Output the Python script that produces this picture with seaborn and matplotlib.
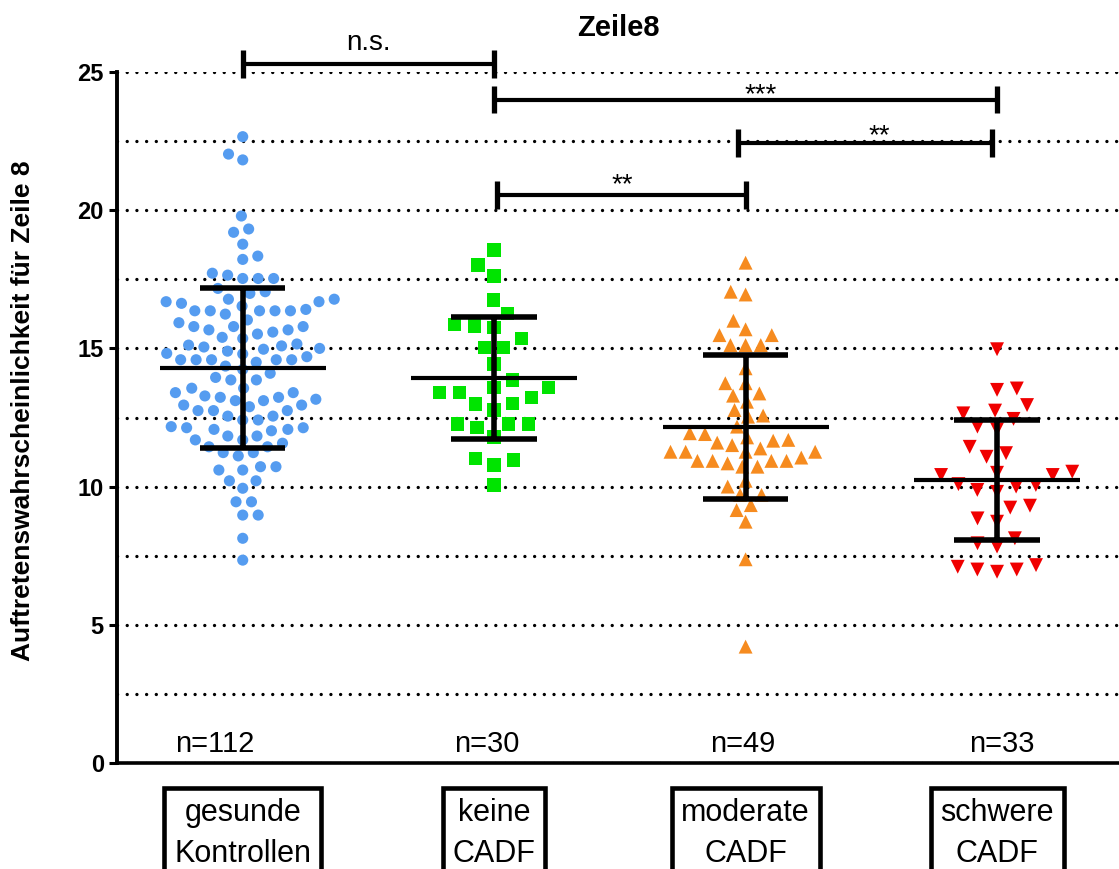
import numpy as np
import pandas as pd
import matplotlib
matplotlib.use("Agg")
import matplotlib.pyplot as plt
import seaborn as sns

# ---------------- data ----------------
categories = ["gesunde\nKontrollen", "keine\nCADF", "moderate\nCADF", "schwere\nCADF"]

gesunde = [22.66, 22.03, 21.82,
           19.79, 19.32, 19.20,
           18.77, 18.34, 18.22,
           17.72, 17.65, 17.53, 17.53, 17.53,
           17.17, 17.05, 16.99,
           16.78, 16.78, 16.69, 16.69, 16.63, 16.53, 16.41,
           16.36, 16.36, 16.36, 16.36, 16.36,
           16.24, 16.03, 15.93,
           15.79, 15.79, 15.79, 15.67, 15.67, 15.59, 15.52, 15.40, 15.36,
           15.16, 15.12, 15.09, 15.05, 15.00, 14.97, 14.90, 14.82, 14.80,
           14.70, 14.59, 14.59, 14.59, 14.59, 14.59, 14.50,
           14.36, 14.24, 14.10, 13.95, 13.86, 13.86,
           13.56, 13.56, 13.40, 13.40, 13.28, 13.23, 13.23, 13.16, 13.11, 13.11,
           12.95, 12.95, 12.89, 12.75, 12.75, 12.75, 12.55, 12.55, 12.41, 12.41,
           12.17, 12.13, 12.13, 12.07, 12.07, 12.02,
           11.83, 11.83, 11.69, 11.69, 11.57, 11.44, 11.44, 11.23, 11.23, 11.11,
           10.72, 10.72, 10.60, 10.60, 10.21, 10.21, 9.94, 9.45, 9.45, 8.97, 8.97,
           8.13, 7.34]

keine = [18.56, 18.02, 17.62, 16.75, 16.27, 15.87, 15.81, 15.76, 15.36, 15.04,
         15.04, 14.44, 13.86, 13.59, 13.59, 13.41, 13.40, 13.23, 12.99, 13.01,
         12.77, 12.26, 12.26, 12.26, 12.14, 11.80, 10.96, 11.02, 10.78, 10.06]

moderate = [18.10, 17.05, 16.95, 16.00, 15.69, 15.48, 15.48, 15.12, 15.12, 15.12,
            14.28, 13.74, 13.74, 13.29, 13.37, 13.07, 12.77, 12.57, 12.53, 12.17,
            11.93, 11.90, 11.78, 11.69, 11.66, 11.59, 11.50, 11.38,
            11.26, 11.26, 11.26, 11.26, 11.05, 10.93, 10.93, 10.93, 10.93,
            10.84, 10.72, 10.72, 10.21, 10.00, 9.70, 9.70, 9.33, 9.15, 8.73,
            7.37, 4.21]

schwere = [14.97, 13.50, 13.55, 12.95, 12.75, 12.65, 12.45, 12.07, 12.17,
           11.44, 11.21, 11.08, 10.42, 10.54, 10.42, 10.50, 10.00,
           10.09, 9.88, 10.06, 9.81, 9.24, 9.31, 8.73, 8.85,
           7.95, 8.13, 7.83, 7.16, 7.00, 6.92, 7.00, 7.10]

n_labels = ["n=112", "n=30", "n=49", "n=33"]
title_text = "Zeile8"
ylabel_text = "Auftretenswahrscheinlichkeit für Zeile 8"

# significance comparisons: (left group, right group, label)
comp_left = [0, 1, 1.97, 1.01]
comp_right = [1, 3, 2.98, 2.0]
comp_height = [25.3, 24.0, 22.43, 20.54]
comp_label = ["n.s.", "***", "**", "**"]

# ---------------- style ----------------
colors = ["#559CF0", "#00E400", "#F68B1F", "#F00000"]
markers = ["o", "s", "^", "v"]
msizes = [8.0, 9.6, 10.0, 10.0]
mgaps = [2.6, 4.0, 0.4, 3.6]

sns.set_style("white")
plt.rcParams["font.family"] = ["Liberation Sans", "DejaVu Sans"]
plt.rcParams.update({
    "text.color": "black", "axes.labelcolor": "black", "xtick.color": "black",
    "ytick.color": "black", "axes.edgecolor": "black",
})

df = pd.DataFrame({
    "group": sum([[c] * len(v) for c, v in zip(categories, [gesunde, keine, moderate, schwere])], []),
    "value": gesunde + keine + moderate + schwere,
})

fig = plt.figure(figsize=(11.19, 8.69), dpi=100)
ax = fig.add_axes([117 / 1119, 106 / 869, 1002 / 1119, 691 / 869])

for cat, col, mk, ms, gap in zip(categories, colors, markers, msizes, mgaps):
    sub = df[df["group"] == cat]
    sns.swarmplot(data=sub, x="group", y="value", order=categories, color=col,
                  marker=mk, size=ms, linewidth=gap, edgecolor="none",
                  ax=ax, zorder=3, warn_thresh=1.0)

sns.pointplot(data=df, x="group", y="value", order=categories, errorbar="sd",
              capsize=0.34, linestyle="none", marker="_", markersize=120,
              markeredgewidth=3.0, color="black",
              err_kws={"linewidth": 4.0, "zorder": 6, "solid_capstyle": "butt"},
              ax=ax, zorder=6)

# axes
ax.set_ylim(0, 25)
ax.set_xlim(-0.5, 3.485)
ax.set_yticks(np.arange(0, 26, 5))
ax.set_yticks(np.arange(2.5, 26, 2.5), minor=True)
ax.grid(False)
ax.yaxis.grid(True, which="both", color="black", linestyle=(0, (0.01, 2.9)),
              linewidth=2.4, dash_capstyle="round")
ax.set_axisbelow(True)
for s in ["top", "right"]:
    ax.spines[s].set_visible(False)
ax.spines["left"].set_linewidth(2.8)
ax.spines["bottom"].set_linewidth(2.6)
ax.tick_params(axis="y", which="major", length=6, width=2.2, labelsize=17,
               direction="out", left=True, colors="black")
ax.tick_params(axis="y", which="minor", length=0)
for lbl in ax.get_yticklabels():
    lbl.set_fontweight("bold")

ax.set_xlabel("")
ax.tick_params(axis="x", length=0, pad=25, labelsize=22, colors="black")
ax.set_xticks(range(len(categories)))
ax.set_xticklabels(categories, linespacing=1.5)
for lbl in ax.get_xticklabels():
    lbl.set_bbox(dict(boxstyle="square,pad=0.32", facecolor="white",
                      edgecolor="black", linewidth=3.3))

ax.set_ylabel(ylabel_text, fontsize=19, fontweight="bold", color="black")
ax.yaxis.set_label_coords(-0.082, 0.51)
ax.set_title(title_text, fontsize=21, fontweight="bold", pad=26, color="black")

# n labels
n_dx = [-0.11, -0.03, -0.01, 0.02]
for i, (lbl, dx) in enumerate(zip(n_labels, n_dx)):
    ax.text(i + dx, 0.38, lbl, ha="center", va="baseline", fontsize=21, color="black")

# significance brackets
text_dx = [0.0, 0.06, 0.055, 0.005]
text_y = [25.79, 23.9, 22.42, 20.65]
for x1, x2, y, lab, tdx, ty in zip(comp_left, comp_right, comp_height, comp_label,
                                    text_dx, text_y):
    ax.plot([x1, x2], [y, y], color="black", lw=3.0, clip_on=False,
            solid_capstyle="butt", zorder=7)
    for xx in (x1, x2):
        ax.plot([xx, xx], [y - 0.5, y + 0.5], color="black", lw=3.8,
                clip_on=False, solid_capstyle="butt", zorder=7)
    ax.text((x1 + x2) / 2 + tdx, ty, lab, ha="center", va="baseline",
            fontsize=20, clip_on=False, color="black")

fig.savefig("out.png", dpi=100)
